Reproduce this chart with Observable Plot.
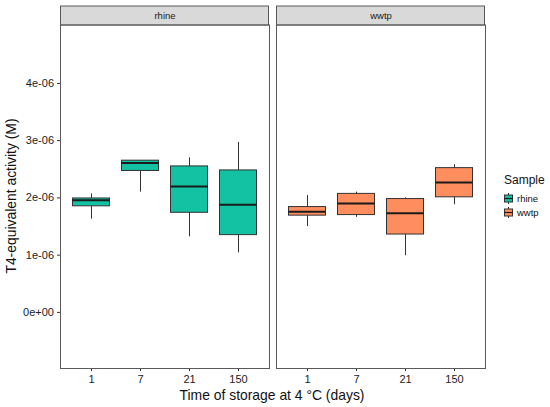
<!DOCTYPE html>
<html><head><meta charset="utf-8">
<script src="https://cdn.jsdelivr.net/npm/d3@7"></script>
<script src="https://cdn.jsdelivr.net/npm/@observablehq/plot@0.6"></script>
<style>
body{margin:0;background:#fff;font-family:"Liberation Sans",Arial,sans-serif;}
#wrap{position:relative;width:550px;height:407px;overflow:hidden;}
#wrap > svg{position:absolute;left:0;top:0;}
.lab{position:absolute;color:#111;font-size:13.9px;line-height:14px;white-space:nowrap;}
#legend{position:absolute;left:504px;top:173px;color:#111;}
#legend .t{font-size:12px;margin-bottom:4px;}
#legend .row{display:flex;align-items:center;height:14px;font-size:9.5px;}
#legend .row svg{margin-right:4px;}
</style></head><body><div id="wrap"></div>
<script>
const samples = ["rhine", "wwtp"];
const days = ["1", "7", "21", "150"];
const colors = ["#12C2A2", "#FF8D5E"];
const sampleCol = ["rhine","rhine","rhine","rhine","wwtp","wwtp","wwtp","wwtp"];
const dayCol    = ["1","7","21","150","1","7","21","150"];
const whiskerLow  = [1.63e-6, 2.10e-6, 1.32e-6, 1.04e-6, 1.50e-6, 1.66e-6, 0.99e-6, 1.88e-6];
const q1          = [1.853e-6, 2.47e-6, 1.74e-6, 1.35e-6, 1.69e-6, 1.70e-6, 1.36e-6, 2.01e-6];
const median      = [1.96e-6, 2.61e-6, 2.20e-6, 1.88e-6, 1.76e-6, 1.90e-6, 1.73e-6, 2.27e-6];
const q3          = [1.99e-6, 2.65e-6, 2.55e-6, 2.48e-6, 1.84e-6, 2.07e-6, 1.98e-6, 2.52e-6];
const whiskerHigh = [2.07e-6, 2.65e-6, 2.70e-6, 2.97e-6, 2.04e-6, 2.10e-6, 2.00e-6, 2.58e-6];
const yTicks = [0, 1e-6, 2e-6, 3e-6, 4e-6];

const data = sampleCol.map((s, i) => ({
  sample: s, day: dayCol[i], lo: whiskerLow[i], q1: q1[i], med: median[i], q3: q3[i], hi: whiskerHigh[i]
}));

function sci(d) {
  const [m, e] = d.toExponential(0).split("e");
  const sign = e[0] === "-" ? "-" : "+";
  const ex = String(Math.abs(+e)).padStart(2, "0");
  return m + "e" + sign + ex;
}

const W = 550, H = 407, mL = 59.5, mR = 65, mT = 24.5, mB = 39, stripH = 19;

const chart = Plot.plot({
  width: W,
  height: H,
  marginLeft: mL,
  marginRight: mR,
  marginTop: mT,
  marginBottom: mB,
  style: {fontFamily: "'Liberation Sans', Arial, sans-serif", fontSize: "11px", color: "#222", background: "transparent"},
  facet: {marginTop: 0, marginRight: 0, marginBottom: 0, marginLeft: 0},
  fx: {domain: samples, paddingInner: 0.031, paddingOuter: 0, axis: null, label: null},
  x: {type: "band", domain: days, paddingInner: 0.25, paddingOuter: 0.225, label: null, tickSize: 3, tickPadding: 4},
  y: {domain: [-0.98e-6, 5.02e-6], ticks: yTicks, tickFormat: sci, label: null, tickSize: 3, tickPadding: 3.5},
  color: {domain: samples, range: colors},
  marks: [
    Plot.frame({stroke: "#5a5a5a", strokeWidth: 1}),
    Plot.ruleX(data, {x: "day", y1: "lo", y2: "hi", fx: "sample", stroke: "#333", strokeWidth: 1}),
    Plot.barY(data, {x: "day", y1: "q1", y2: "q3", fx: "sample", fill: "sample", stroke: "#333", strokeWidth: 1}),
    Plot.tickY(data, {x: "day", y: "med", fx: "sample", stroke: "#1a1a1a", strokeWidth: 2}),
    Plot.text(samples, {fx: d => d, text: d => d, frameAnchor: "top", dy: -9.5, lineAnchor: "middle", fontSize: 9.5, fill: "#1a1a1a"})
  ]
});

// facet strips above each panel, positioned with the fx scale
let fxScale = null;
try { fxScale = chart.scale("fx"); } catch (e) { fxScale = null; }
const bw = fxScale && fxScale.bandwidth ? fxScale.bandwidth : (W - mL - mR) / (2 - 0.031) * (1 - 0.031);
const NS = "http://www.w3.org/2000/svg";
const stripG = document.createElementNS(NS, "g");
samples.forEach((s, i) => {
  const x0 = fxScale && fxScale.apply ? fxScale.apply(s) : mL + i * (bw / (1 - 0.031));
  const r = document.createElementNS(NS, "rect");
  r.setAttribute("x", x0 + 0.5); r.setAttribute("y", mT - stripH + 0.5);
  r.setAttribute("width", bw - 1); r.setAttribute("height", stripH);
  r.setAttribute("fill", "#d9d9d9"); r.setAttribute("stroke", "#5a5a5a");
  stripG.appendChild(r);
});
const firstG = chart.querySelector(":scope > g");
chart.insertBefore(stripG, firstG);
chart.querySelectorAll('[aria-label="y-axis tick"] path, [aria-label="x-axis tick"] path').forEach(p => p.setAttribute("stroke", "#333"));

const wrap = document.getElementById("wrap");
wrap.appendChild(chart);

const yl = document.createElement("div");
yl.className = "lab";
yl.textContent = "T4-equivalent activity (M)";
yl.style.left = "11px"; yl.style.top = "196px";
yl.style.transform = "translate(-50%,-50%) rotate(-90deg)";
wrap.appendChild(yl);

const xl = document.createElement("div");
xl.className = "lab";
xl.textContent = "Time of storage at 4 °C (days)";
xl.style.left = "272px"; xl.style.top = "395px";
xl.style.transform = "translate(-50%,-50%)";
wrap.appendChild(xl);

const lg = document.createElement("div");
lg.id = "legend";
lg.innerHTML = '<div class="t">Sample</div>' + samples.map((s, i) =>
  `<div class="row"><svg width="9" height="11"><line x1="4.5" x2="4.5" y1="0" y2="11" stroke="#333"/><rect x="0.5" y="2" width="8" height="7" fill="${colors[i]}" stroke="#333"/><line x1="0.5" x2="8.5" y1="5.5" y2="5.5" stroke="#1a1a1a" stroke-width="1.2"/></svg>${s}</div>`
).join("");
wrap.appendChild(lg);
</script></body></html>
